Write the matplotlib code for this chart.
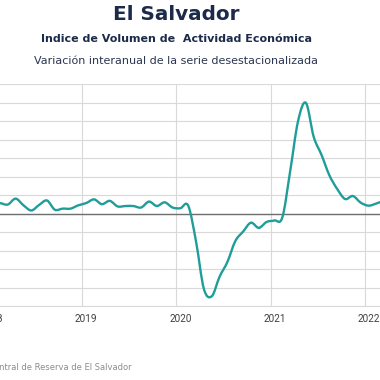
import numpy as np
import matplotlib
matplotlib.use("Agg")
import matplotlib.pyplot as plt
from matplotlib.path import Path
from matplotlib.patches import PathPatch
from matplotlib.textpath import TextPath
from matplotlib.font_manager import FontProperties

# ---------------- data ----------------
months = ["2018-01", "2018-02", "2018-03", "2018-04", "2018-05", "2018-06",
          "2018-07", "2018-08", "2018-09", "2018-10", "2018-11", "2018-12",
          "2019-01", "2019-02", "2019-03", "2019-04", "2019-05", "2019-06",
          "2019-07", "2019-08", "2019-09", "2019-10", "2019-11", "2019-12",
          "2020-01", "2020-02", "2020-03", "2020-04", "2020-05", "2020-06",
          "2020-07", "2020-08", "2020-09", "2020-10", "2020-11", "2020-12",
          "2021-01", "2021-02", "2021-03", "2021-04", "2021-05", "2021-06",
          "2021-07", "2021-08", "2021-09", "2021-10", "2021-11", "2021-12",
          "2022-01", "2022-02", "2022-03"]
values = [3.0, 2.9, 2.5, 4.1, 2.3, 0.9,
          2.4, 3.6, 1.1, 1.4, 1.4, 2.3,
          2.9, 3.9, 2.6, 3.5, 2.0, 2.1,
          2.1, 1.7, 3.3, 2.1, 3.1, 1.7,
          1.5, 2.2, -7.5, -20.3, -22.3, -17.0,
          -13.0, -7.4, -4.8, -2.4, -3.8, -2.2,
          -1.8, -1.0, 11.5, 25.0, 30.0, 20.8,
          15.9, 10.4, 6.7, 4.0, 4.8, 3.0,
          2.2, 2.8, 3.6]
year_labels = ["2018", "2019", "2020", "2021", "2022"]

title = "El Salvador"
subtitle = "Indice de Volumen de  Actividad Económica"
subtitle2 = "Variación interanual de la serie desestacionalizada"
source = "Fuente: Banco Central de Reserva de El Salvador"

# ---------------- figure ----------------
W = H = 380
DPI = 100
fig = plt.figure(figsize=(3.8, 3.8), dpi=DPI)
fig.patch.set_facecolor("white")

ax_left_px, ax_right_px = -40, 420
ax_top_px, ax_bot_px = 84.3, 306.3
ax = fig.add_axes([ax_left_px / W, 1 - ax_bot_px / H,
                   (ax_right_px - ax_left_px) / W, (ax_bot_px - ax_top_px) / H])

x = np.array([int(m[:4]) + (int(m[5:]) - 0.5) / 12 for m in months])
y = np.array(values)

# smoothed line (Catmull-Rom -> cubic Bezier, like a spreadsheet "smoothed line")
verts = [(x[0], y[0])]
codes = [Path.MOVETO]
n = len(x)
for i in range(n - 1):
    p0 = np.array([x[max(i - 1, 0)], y[max(i - 1, 0)]])
    p1 = np.array([x[i], y[i]])
    p2 = np.array([x[i + 1], y[i + 1]])
    p3 = np.array([x[min(i + 2, n - 1)], y[min(i + 2, n - 1)]])
    c1 = p1 + (p2 - p0) / 6
    c2 = p2 - (p3 - p1) / 6
    verts += [tuple(c1), tuple(c2), tuple(p2)]
    codes += [Path.CURVE4] * 3
patch = PathPatch(Path(verts, codes), facecolor="none", edgecolor="#1f9e99",
                  lw=1.7, capstyle="round", joinstyle="round", zorder=3)
ax.add_patch(patch)

ypx_per_year = 94.13
ax.set_xlim(2019 - (82.3 - ax_left_px) / ypx_per_year,
            2019 + (ax_right_px - 82.3) / ypx_per_year)
ax.set_ylim(-25, 35)

grid_c = "#d9d9d9"
ax.set_yticks(np.arange(-25, 36, 5))
ax.set_yticklabels([])
ax.tick_params(axis="y", length=0)
ax.grid(axis="y", color=grid_c, lw=0.8)

yrs = [int(s) for s in year_labels]
ax.set_xticks(yrs)
ax.set_xticklabels([])
ax.set_xticks([v + 0.5 / 12 for v in yrs], minor=True)
ax.set_xticklabels(year_labels, minor=True, fontsize=7.2, color="#404040",
                   family="Roboto")
ax.tick_params(axis="x", which="both", length=0, pad=5.5)
ax.grid(axis="x", which="major", color=grid_c, lw=0.8)

ax.axhline(0, color="#6e6e6e", lw=1.0, zorder=2)
for s in ["left", "right", "top"]:
    ax.spines[s].set_visible(False)
ax.spines["bottom"].set_color(grid_c)
ax.spines["bottom"].set_linewidth(0.8)
ax.set_axisbelow(True)


def fit_size(s, target_px, weight="normal", family="DejaVu Sans"):
    fp = FontProperties(family=family, weight=weight)
    w_pt = TextPath((0, 0), s, size=10, prop=fp).get_extents().width
    return 10 * target_px / (w_pt * DPI / 72)


navy = "#1c2b4a"
fs1 = fit_size(title, 125, "bold")
fs2 = fit_size(subtitle, 270, "bold")
fs3 = fit_size(subtitle2, 282)
fs4 = fit_size("ntral de Reserva de El Salvador", 131)

fig.text(175.8 / W, 1 - 15 / H, title, ha="center", va="center",
         fontsize=fs1, fontweight="bold", color=navy, family="DejaVu Sans")
fig.text(176.7 / W, 1 - 39.5 / H, subtitle, ha="center", va="center",
         fontsize=fs2, fontweight="bold", color=navy, family="DejaVu Sans")
fig.text(175.8 / W, 1 - 61 / H, subtitle2, ha="center", va="center",
         fontsize=fs3, color="#2a3550", family="DejaVu Sans")
fig.text(132 / W, 1 - 368 / H, source, ha="right", va="center",
         fontsize=fs4, color="#8c8c8c", family="DejaVu Sans")

fig.savefig("out.png", dpi=DPI)
